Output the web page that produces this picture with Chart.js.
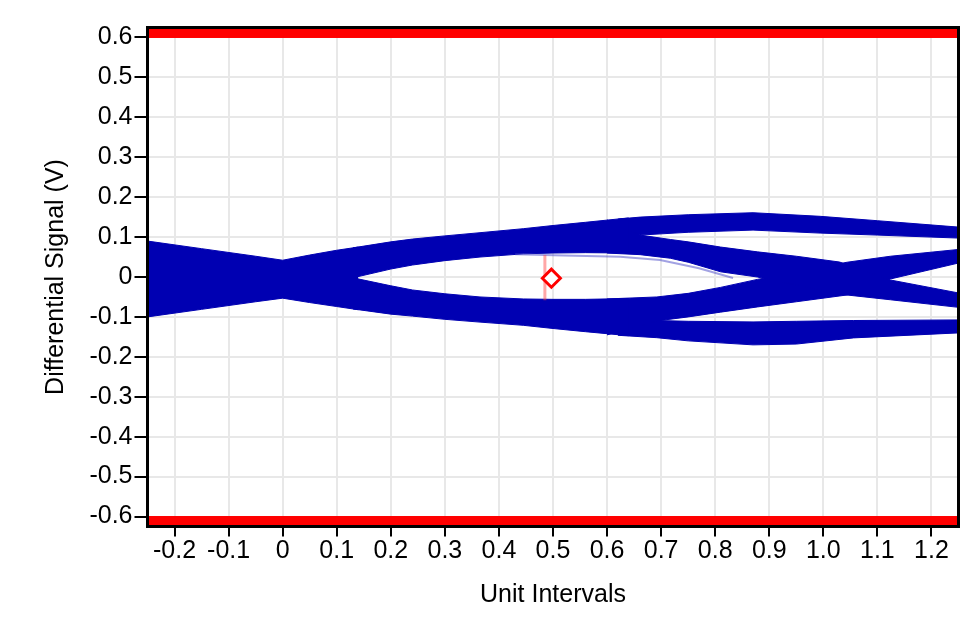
<!DOCTYPE html>
<html>
<head>
<meta charset="utf-8">
<title>Eye Diagram</title>
<script src="https://cdn.jsdelivr.net/npm/chart.js@4.4.0/dist/chart.umd.min.js"></script>
<style>
  html, body { margin: 0; padding: 0; background: #fff; }
  canvas { display: block; }
</style>
</head>
<body>
<canvas id="eye" width="979" height="639"></canvas>
<script>
// axis ticks
const xTicks = [-0.2, -0.1, 0, 0.1, 0.2, 0.3, 0.4, 0.5, 0.6, 0.7, 0.8, 0.9, 1.0, 1.1, 1.2];
const xTickLabels = ['-0.2', '-0.1', '0', '0.1', '0.2', '0.3', '0.4', '0.5', '0.6', '0.7', '0.8', '0.9', '1.0', '1.1', '1.2'];
const yTicks = [-0.6, -0.5, -0.4, -0.3, -0.2, -0.1, 0, 0.1, 0.2, 0.3, 0.4, 0.5, 0.6];
const yTickLabels = ['-0.6', '-0.5', '-0.4', '-0.3', '-0.2', '-0.1', '0', '0.1', '0.2', '0.3', '0.4', '0.5', '0.6'];

// eye traces, as upper / lower edges of each band (UI, V)
const leftX = [-0.25, -0.15, -0.05, 0, 0.05, 0.1, 0.14];
const leftTop = [0.09, 0.071, 0.052, 0.042, 0.055, 0.067, 0.075];
const leftBot = [-0.1, -0.081, -0.062, -0.053, -0.064, -0.074, -0.082];

const arcX = [0.13, 0.2, 0.24, 0.3, 0.365, 0.445, 0.5, 0.56, 0.64];
const upperTop = [0.073, 0.088, 0.095, 0.103, 0.111, 0.121, 0.129, 0.137, 0.148];
const upperBot = [-0.002, 0.02, 0.03, 0.041, 0.05, 0.058, 0.06, 0.061, 0.06];
const lowerTop = [-0.002, -0.022, -0.0325, -0.042, -0.05, -0.055, -0.056, -0.056, -0.054];
const lowerBot = [-0.08, -0.093, -0.098, -0.106, -0.113, -0.121, -0.129, -0.137, -0.147];

const fallX = [0.6, 0.661, 0.717, 0.75, 0.81, 0.878, 0.95, 1.03, 1.124, 1.25];
const fallTop = [0.143, 0.105, 0.094, 0.088, 0.075, 0.063, 0.052, 0.0375, -0.0075, -0.04];
const fallBot = [0.06, 0.056, 0.047, 0.037, 0.013, 0.0, -0.02, -0.043, -0.057, -0.076];

const riseX = [0.6, 0.692, 0.75, 0.81, 0.878, 0.95, 1.044, 1.124, 1.25];
const riseTop = [-0.055, -0.05, -0.041, -0.026, -0.006, 0.012, 0.037, 0.052, 0.069];
const riseBot = [-0.145, -0.11, -0.1, -0.088, -0.075, -0.062, -0.045, -0.005, 0.035];

const topRailX = [0.62, 0.661, 0.75, 0.87, 0.994, 1.1, 1.25];
const topRailTop = [0.145, 0.15, 0.156, 0.161, 0.152, 0.141, 0.125];
const topRailBot = [0.125, 0.105, 0.112, 0.1175, 0.11, 0.105, 0.0975];

const botRailX = [0.62, 0.692, 0.75, 0.87, 0.95, 1.056, 1.25];
const botRailTop = [-0.125, -0.109, -0.111, -0.1125, -0.111, -0.109, -0.1075];
const botRailBot = [-0.146, -0.152, -0.16, -0.17, -0.168, -0.1525, -0.14];

// faint single trace inside the eye
const faintX = [0.43, 0.52, 0.624, 0.698, 0.77, 0.833];
const faintY = [0.057, 0.054, 0.051, 0.0425, 0.022, -0.0025];

// mask limits, cursor and eye-centre marker
const maskX = [-0.25, 1.25];
const maskHigh = [0.6, 0.6];
const maskLow = [-0.6, -0.6];
const cursorX = [0.485, 0.485];
const cursorY = [0.055, -0.058];
const markerX = [0.497];
const markerY = [-0.003];

const blue = 'rgb(0, 0, 178)';
const red = 'rgb(255, 0, 0)';
const tickFont = {family: "'Liberation Sans', Arial, sans-serif", size: 25};
const titleFont = {family: "'Liberation Sans', Arial, sans-serif", size: 25};

function pts(xs, ys) {
	return xs.map((x, i) => ({x: x, y: ys[i]}));
}

function band(xs, top, bot) {
	return [{
		data: pts(xs, top),
		borderColor: blue,
		borderWidth: 1,
		pointRadius: 0,
		fill: false
	}, {
		data: pts(xs, bot),
		borderColor: blue,
		borderWidth: 1,
		pointRadius: 0,
		fill: '-1',
		backgroundColor: blue
	}];
}

const datasets = [
	{
		data: pts(markerX, markerY),
		showLine: false,
		pointStyle: 'rectRot',
		pointRadius: 9,
		pointBorderWidth: 3,
		pointBorderColor: red,
		pointBackgroundColor: '#fff'
	},
	{
		data: pts(cursorX, cursorY),
		borderColor: 'rgba(255, 60, 60, 0.45)',
		borderWidth: 3,
		pointRadius: 0,
		fill: false
	},
	{
		data: pts(maskX, maskHigh),
		borderColor: red,
		borderWidth: 1,
		pointRadius: 0,
		fill: 'end',
		backgroundColor: red
	},
	{
		data: pts(maskX, maskLow),
		borderColor: red,
		borderWidth: 1,
		pointRadius: 0,
		fill: 'start',
		backgroundColor: red
	},
	{
		data: pts(faintX, faintY),
		borderColor: 'rgba(70, 70, 200, 0.5)',
		borderWidth: 2,
		pointRadius: 0,
		fill: false
	}
].concat(
	band(leftX, leftTop, leftBot),
	band(arcX, upperTop, upperBot),
	band(arcX, lowerTop, lowerBot),
	band(fallX, fallTop, fallBot),
	band(riseX, riseTop, riseBot),
	band(topRailX, topRailTop, topRailBot),
	band(botRailX, botRailTop, botRailBot)
);

const frame = {
	id: 'frame',
	afterDraw(chart) {
		const {ctx, chartArea: a} = chart;
		ctx.save();
		ctx.strokeStyle = '#000';
		ctx.lineWidth = 3;
		ctx.strokeRect(a.left, a.top, a.right - a.left, a.bottom - a.top);
		ctx.restore();
	}
};

const config = {
	type: 'line',
	data: {datasets: datasets},
	plugins: [frame],
	options: {
		responsive: false,
		animation: false,
		devicePixelRatio: 1,
		events: [],
		layout: {
			padding: {left: 0, top: 27.5, right: 20.5, bottom: 0}
		},
		elements: {
			line: {tension: 0}
		},
		plugins: {
			legend: {display: false},
			tooltip: {enabled: false}
		},
		scales: {
			x: {
				type: 'linear',
				min: -0.25,
				max: 1.25,
				afterBuildTicks: function (s) { s.ticks = xTicks.map(v => ({value: v})); },
				afterFit: function (s) { s.height = 112.5; },
				border: {display: false},
				grid: {color: '#e8e8e8', lineWidth: 2, tickColor: '#000', tickWidth: 2, tickLength: 10},
				ticks: {
					color: '#000',
					font: tickFont,
					padding: 0,
					maxRotation: 0,
					autoSkip: false,
					callback: function (v, i) { return xTickLabels[i]; }
				},
				title: {
					display: true,
					text: 'Unit Intervals',
					color: '#000',
					font: titleFont,
					padding: {top: 0, bottom: 29}
				}
			},
			y: {
				type: 'linear',
				min: -0.625,
				max: 0.625,
				afterBuildTicks: function (s) { s.ticks = yTicks.map(v => ({value: v})); },
				afterFit: function (s) { s.width = 147.5; },
				border: {display: false},
				grid: {color: '#e8e8e8', lineWidth: 2, tickColor: '#000', tickWidth: 2, tickLength: 13},
				ticks: {
					color: '#000',
					font: tickFont,
					padding: 2,
					autoSkip: false,
					callback: function (v, i) { return yTickLabels[i]; }
				},
				title: {
					display: true,
					text: 'Differential Signal (V)',
					color: '#000',
					font: titleFont,
					padding: {top: 41, bottom: 0}
				}
			}
		}
	}
};

const eyeChart = new Chart(document.getElementById('eye'), config);
</script>
</body>
</html>
